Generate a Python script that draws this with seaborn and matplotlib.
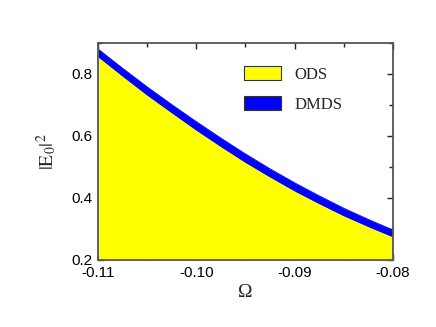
import numpy as np
import pandas as pd
import matplotlib
matplotlib.use("Agg")
import matplotlib.pyplot as plt
from matplotlib.patches import Patch
from matplotlib.ticker import MultipleLocator, FormatStrFormatter
import seaborn as sns

# Data
omega = [-0.11, -0.1075, -0.105, -0.1025, -0.10, -0.0975, -0.095, -0.0925,
         -0.09, -0.0875, -0.085, -0.0825, -0.08]
dmds_top = [0.880, 0.818, 0.758, 0.701, 0.646, 0.593, 0.542, 0.494,
            0.449, 0.407, 0.367, 0.331, 0.297]
ods_top = [0.856, 0.793, 0.732, 0.675, 0.619, 0.566, 0.515, 0.468,
           0.423, 0.382, 0.343, 0.308, 0.275]
labels = ["ODS", "DMDS"]
colors = ["#FFFF00", "#0000FF"]

sns.set_style("ticks")
plt.rcParams['font.family'] = ['Liberation Sans', 'DejaVu Sans']
plt.rcParams['mathtext.fontset'] = 'stix'

df = pd.DataFrame({"omega": omega, "dmds": dmds_top, "ods": ods_top})

fig = plt.figure(figsize=(4.36, 3.27), dpi=100)
ax = fig.add_axes([0.225, 0.205, 0.676, 0.664])

ax.fill_between(df["omega"], 0.2, df["ods"], color=colors[0], linewidth=0)
ax.fill_between(df["omega"], df["ods"], df["dmds"], color=colors[1], linewidth=0)
sns.lineplot(data=df, x="omega", y="dmds", ax=ax, color=colors[1], linewidth=0.6)
sns.lineplot(data=df, x="omega", y="ods", ax=ax, color=colors[1], linewidth=0.6)

ax.set_xlim(-0.11, -0.08)
ax.set_ylim(0.2, 0.9)
ax.xaxis.set_major_locator(MultipleLocator(0.01))
ax.xaxis.set_minor_locator(MultipleLocator(0.005))
ax.yaxis.set_major_locator(MultipleLocator(0.2))
ax.yaxis.set_minor_locator(MultipleLocator(0.1))
ax.xaxis.set_major_formatter(FormatStrFormatter('%.2f'))
ax.yaxis.set_major_formatter(FormatStrFormatter('%.1f'))

ax.tick_params(which='both', direction='in', top=True, right=True, colors='#222222',
               labelcolor='black', labelsize=11)
ax.tick_params(which='major', length=4.5, width=1.0)
ax.tick_params(which='minor', length=3, width=1.0)
ax.tick_params(axis='x', which='major', pad=4)
ax.tick_params(axis='y', which='major', pad=4)
for s in ax.spines.values():
    s.set_color('#555555')
    s.set_linewidth(1.3)
    s.set_visible(True)

ax.set_xlabel("Ω", family=['Liberation Serif', 'DejaVu Serif'], fontsize=14, labelpad=3)
ax.set_ylabel(r"$|\mathrm{E}_0|^2$", fontsize=14, labelpad=9)

handles = [Patch(facecolor=c, edgecolor='#333333', linewidth=0.8) for c in colors]
leg = ax.legend(handles, labels, loc='upper left', bbox_to_anchor=(0.495, 0.895),
                frameon=False, borderpad=0, borderaxespad=0,
                handlelength=2.2, handleheight=0.95, handletextpad=0.85,
                labelspacing=0.8, prop={'family': 'Liberation Serif', 'size': 12})

fig.savefig("out.png", dpi=100)
